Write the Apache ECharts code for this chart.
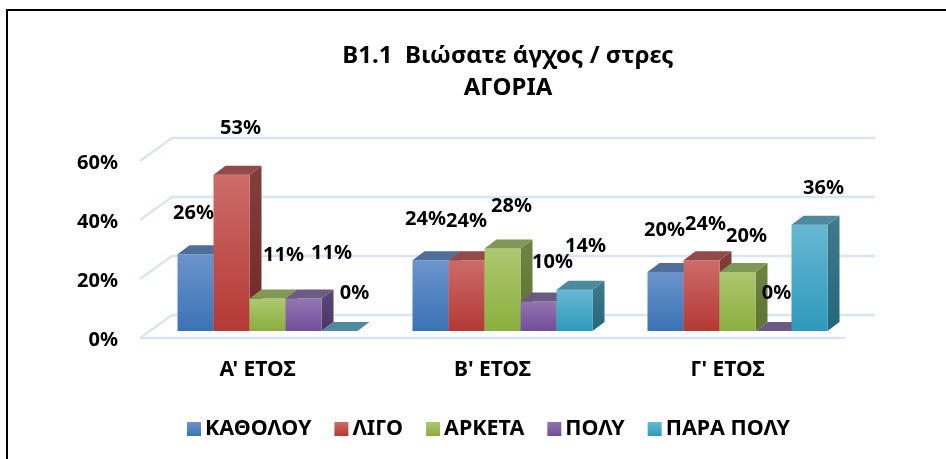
<!DOCTYPE html>
<html lang="el">
<head>
    <meta charset="UTF-8">
    <title>B1.1</title>
    <script type="text/javascript" src="https://cdn.jsdelivr.net/npm/echarts@6/dist/echarts.min.js"></script>
    <style>html,body{margin:0;padding:0;background:#fff}</style>
</head>
<body>
<div id="main" style="width:946px;height:459px"></div>

<script type="text/javascript">
    var years = ["Α' ΕΤΟΣ", "Β' ΕΤΟΣ", "Γ' ΕΤΟΣ"];
    var yTicks = [0, 20, 40, 60];
    var names = ["ΚΑΘΟΛΟΥ", "ΛΙΓΟ", "ΑΡΚΕΤΑ", "ΠΟΛΥ", "ΠΑΡΑ ΠΟΛΥ"];
    var katholou = [26, 24, 20];
    var ligo = [53, 24, 24];
    var arketa = [11, 28, 20];
    var poly = [11, 10, 0];
    var paraPoly = [0, 14, 36];

    // label nudges from the top of each bar, the original labels were moved by hand
    var labelNudge = [
        [[-2, -41], [-5, -41], [-1, -42]],
        [[9, -46], [0, -39], [4, -36]],
        [[16, -43], [9, -42], [9, -36]],
        [[28, -45], [14, -39], [3, -38]],
        [[15, -38], [11, -43], [14, -37]]
    ];
    var palette = [
        {front: ['#6C94CC', '#3A73B5'], top: '#4F6F9A', side: ['#4F6F9A', '#2F5585']},
        {front: ['#CD6C69', '#B43935'], top: '#934A48', side: ['#823F3C', '#732824']},
        {front: ['#ADC86F', '#8BAF3E'], top: '#7F9855', side: ['#6D8442', '#5C7331']},
        {front: ['#9375B1', '#734D9A'], top: '#6B5A82', side: ['#5A4778', '#4B3667']},
        {front: ['#67B8D3', '#2E99BC'], top: '#4E8A9E', side: ['#42798D', '#23677B']}
    ];
    var font = '"Noto Sans", sans-serif';
    var barW = 36, depthX = 12, depthY = 9;

    function grad(c) {
        return {type: 'linear', x: 0, y: 0, x2: 0, y2: 1,
            colorStops: [{offset: 0, color: c[0]}, {offset: 1, color: c[1]}]};
    }

    function barItem(s) {
        return function (params, api) {
            var p = api.coord([api.value(0), api.value(1)]);
            var base = api.coord([api.value(0), 0]);
            var x = p[0] + (s - 2.5) * barW, y = p[1], b = base[1];
            var n = labelNudge[s][params.dataIndex];
            var children = [];
            if (b > y) {
                children.push({type: 'polygon', shape: {points: [[x + barW, y], [x + barW + depthX, y - depthY], [x + barW + depthX, b - depthY], [x + barW, b]]},
                    style: {fill: grad(palette[s].side)}});
                children.push({type: 'rect', shape: {x: x, y: y, width: barW, height: b - y},
                    style: {fill: grad(palette[s].front)}});
            }
            children.push({type: 'polygon', shape: {points: [[x, y], [x + barW, y], [x + barW + depthX, y - depthY], [x + depthX, y - depthY]]},
                style: {fill: palette[s].top}});
            children.push({type: 'text', z2: 100, style: {
                x: x + barW / 2 + n[0], y: y + n[1], text: api.value(1) + '%',
                font: 'bold 20px ' + font, fill: '#000', align: 'center', verticalAlign: 'middle'}});
            return {type: 'group', children: children};
        };
    }

    function wallItem(params, api) {
        var g = params.coordSys;
        var y = api.coord([0, api.value(0)])[1];
        var st = {stroke: '#DAE5F4', lineWidth: 2.5, fill: null};
        var children = [{type: 'polyline',
            shape: {points: [[g.x - 10, y + 7], [g.x + 22, y - 16], [g.x + 725, y - 16]]}, style: st}];
        if (api.value(0) === 0) {
            children.push({type: 'line', shape: {x1: g.x - 10, y1: y + 7, x2: g.x + 695, y2: y + 7}, style: st});
        }
        return {type: 'group', children: children};
    }

    var chartDom = document.getElementById('main');
    var myChart = echarts.init(chartDom);
    var allValues = [katholou, ligo, arketa, poly, paraPoly];

    var series = [{
        type: 'custom',
        name: 'walls',
        coordinateSystem: 'cartesian2d',
        renderItem: wallItem,
        encode: {y: 0},
        data: yTicks.map(function (t) { return [t]; }),
        silent: true,
        z: 1
    }];
    names.forEach(function (name, s) {
        series.push({
            type: 'custom',
            name: name,
            coordinateSystem: 'cartesian2d',
            renderItem: barItem(s),
            encode: {x: 0, y: 1},
            itemStyle: {color: grad(palette[s].front)},
            data: allValues[s].map(function (v, i) { return [i, v]; }),
            z: 2 + s
        });
    });

    var option = {
        animation: false,
        title: {
            text: 'Β1.1  Βιώσατε άγχος / στρες\nΑΓΟΡΙΑ',
            left: 503, top: 35, textAlign: 'center',
            textStyle: {fontFamily: font, fontWeight: 'bold', fontSize: 24, lineHeight: 32, color: '#000'}
        },
        // the original frame only shows its top and left edges
        graphic: [{
            type: 'polyline', silent: true,
            shape: {points: [[7, 459], [7, 10], [946, 10]]},
            style: {fill: null, stroke: '#000', lineWidth: 2}
        }],
        legend: {
            data: names,
            icon: 'rect',
            left: 187, top: 418, padding: 0,
            itemWidth: 14, itemHeight: 14, itemGap: 23,
            textStyle: {fontFamily: font, fontWeight: 'bold', fontSize: 21.5, color: '#000', padding: [0, 0, 0, -1]}
        },
        grid: {left: 150, top: 154, width: 705, height: 177},
        xAxis: {
            type: 'category', data: years,
            axisLine: {show: false}, axisTick: {show: false},
            axisLabel: {fontFamily: font, fontWeight: 'bold', fontSize: 21, color: '#000', margin: 29, padding: [0, 20, 0, 0]}
        },
        yAxis: {
            type: 'value', min: 0, max: 60, interval: 20,
            axisLine: {show: false}, axisTick: {show: false}, splitLine: {show: false},
            axisLabel: {fontFamily: font, fontWeight: 'bold', fontSize: 20, color: '#000', margin: 32, verticalAlign: 'top', lineHeight: 18, formatter: '{value}%'}
        },
        series: series
    };

    option && myChart.setOption(option);
</script>
</body>
</html>
